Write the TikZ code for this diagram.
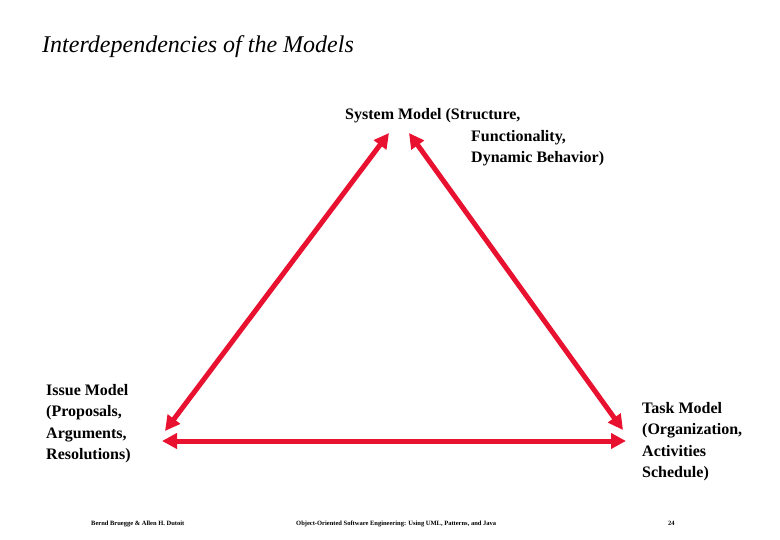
\documentclass[tikz,border=0pt]{standalone}
\usepackage{fontspec}
\setmainfont{Liberation Serif}
\usetikzlibrary{arrows.meta}
\definecolor{ared}{RGB}{232,18,48}
\begin{document}
\begin{tikzpicture}[x=1pt,y=-1pt,
  lbl/.style={anchor=north west,inner sep=0pt,align=left,font=\fontsize{16}{21.5}\selectfont\bfseries},
  foot/.style={anchor=base west,inner sep=0pt,font=\fontsize{6.5}{7}\selectfont\bfseries},
  dbl/.style={draw=ared,line width=5pt,{Triangle[length=15pt,width=15pt]}-{Triangle[length=15pt,width=15pt]}}]
\useasboundingbox (0,0) rectangle (780,540);
\node[anchor=base west,inner sep=0pt,font=\fontsize{24}{28}\selectfont\itshape] (title) at (42,53) {Interdependencies of the Models};
\node[lbl] (sys1) at (345,108) {System Model (Structure,};
\node[lbl] (sys2) at (471,130) {Functionality,\\Dynamic Behavior)};
\node[lbl] (issue) at (46,384) {Issue Model\\(Proposals,\\Arguments,\\Resolutions)};
\node[lbl] (task) at (642,402) {Task Model\\(Organization,\\Activities\\Schedule)};
\coordinate (tl) at (389,133);
\coordinate (tr) at (409,133);
\coordinate (l) at (165,431);
\coordinate (r) at (623,430);
\coordinate (bl) at (162,441);
\coordinate (br) at (626,441);
\draw[dbl] (tl) -- (l);
\draw[dbl] (tr) -- (r);
\draw[dbl] (bl) -- (br);
\node[foot] (f1) at (91,525) {Bernd Bruegge \& Allen H. Dutoit};
\node[foot] (f2) at (296,525) {Object-Oriented Software Engineering: Using UML, Patterns, and Java};
\node[foot] (f3) at (668,525) {24};
\end{tikzpicture}
\end{document}
